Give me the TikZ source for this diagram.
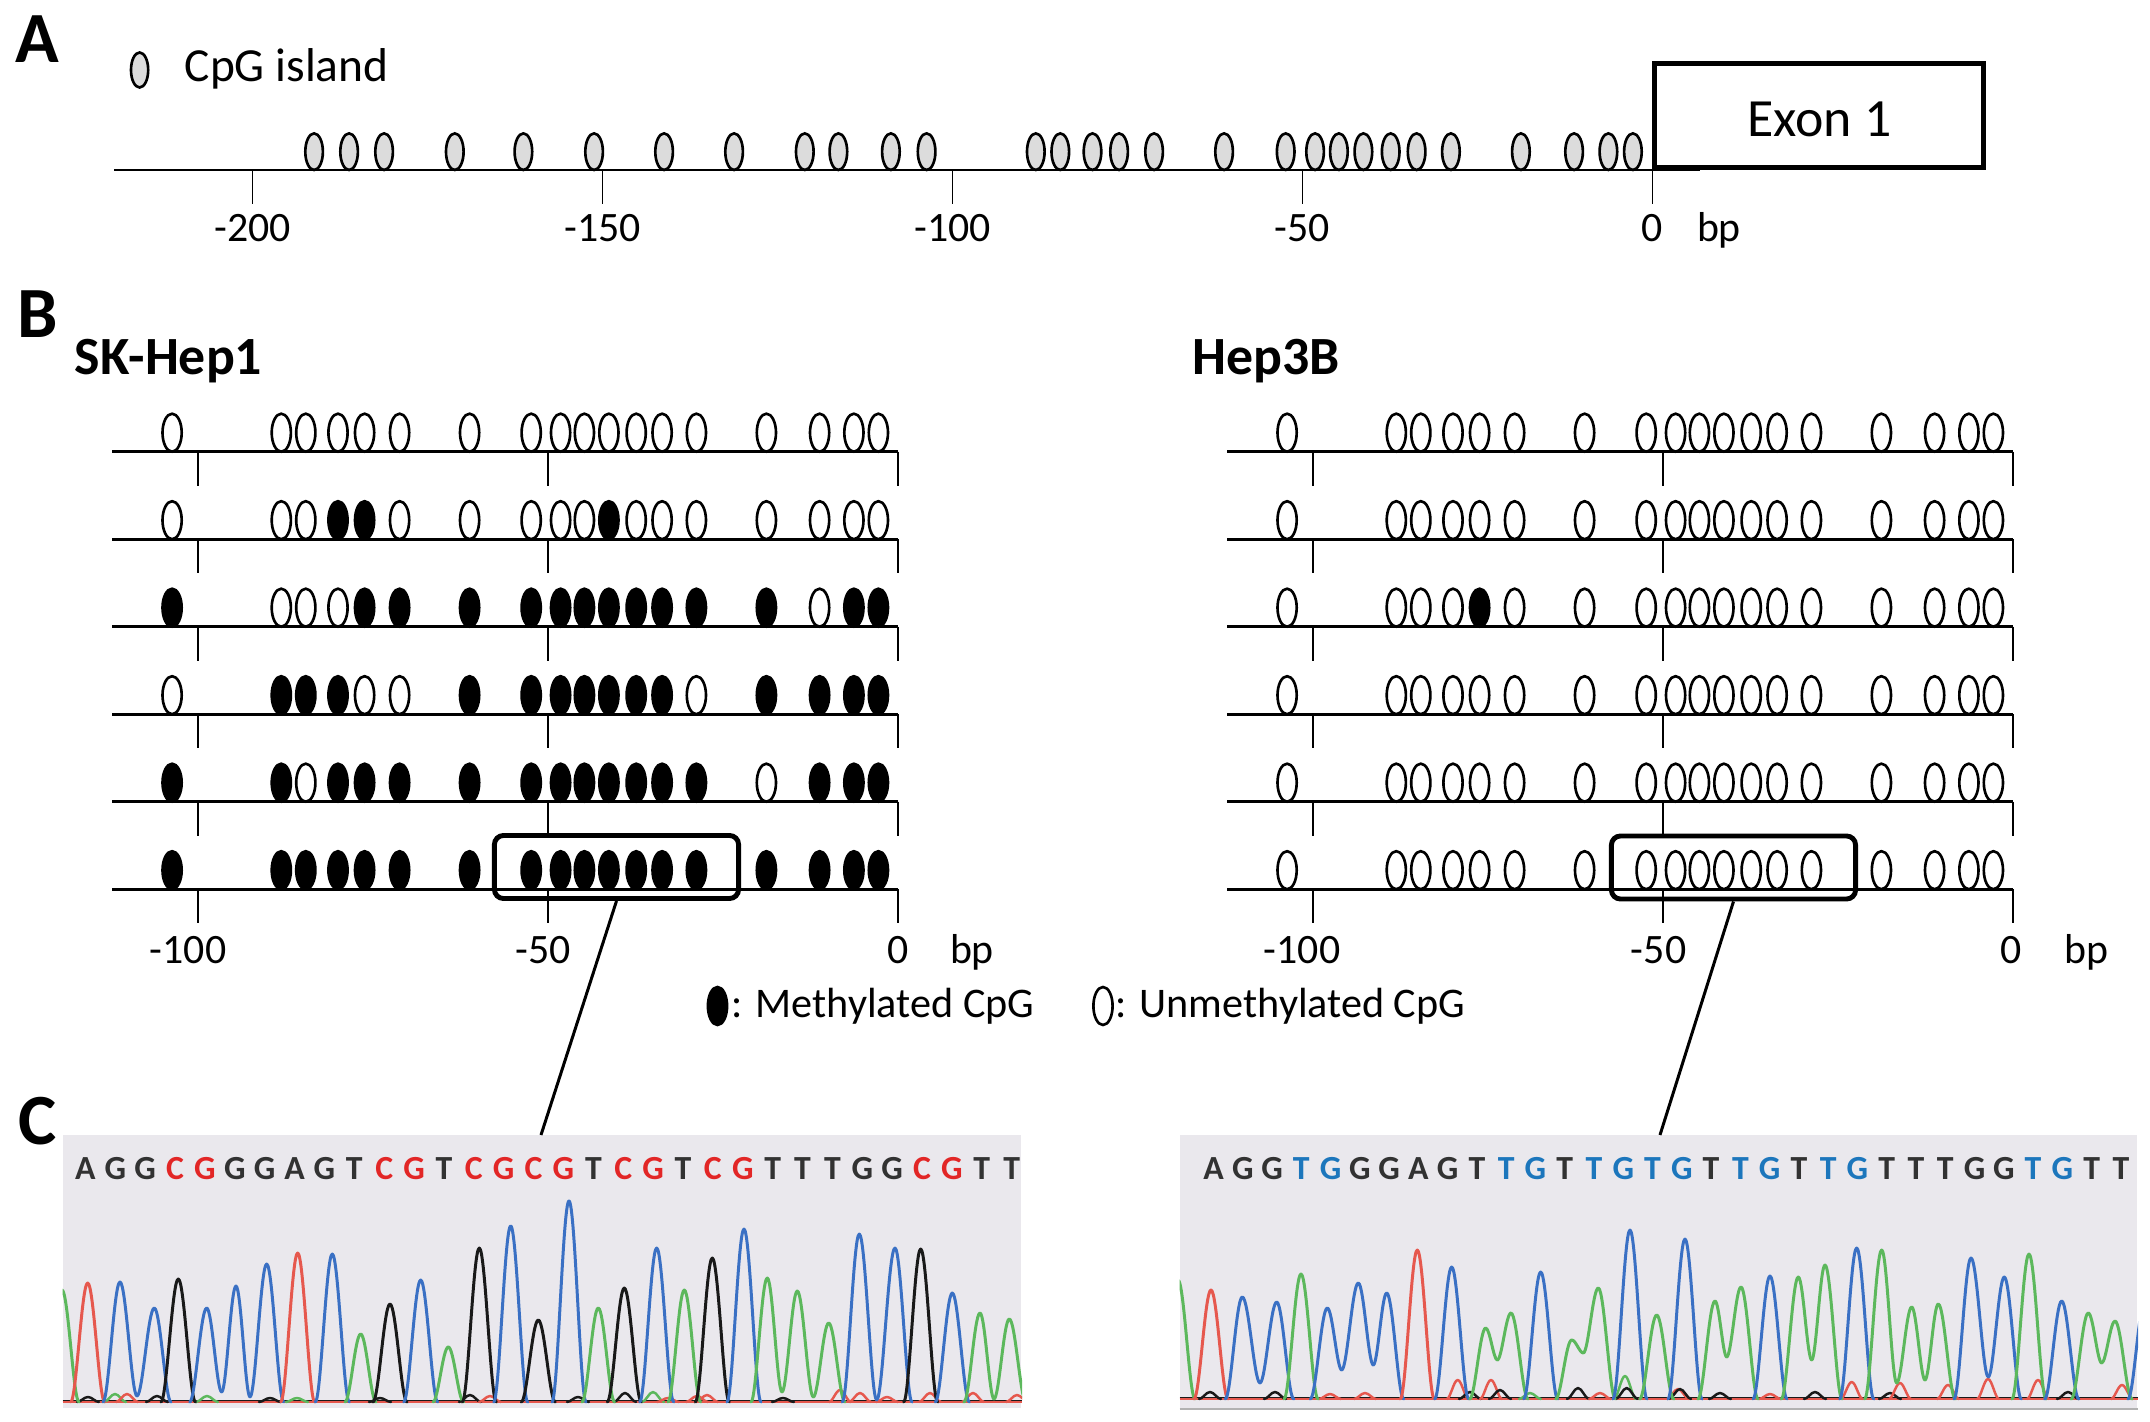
\documentclass[tikz,border=0pt]{standalone}
\usepackage{fontspec}
\setmainfont{Carlito}
\definecolor{trB}{RGB}{58,112,196}
\definecolor{trG}{RGB}{92,184,92}
\definecolor{trR}{RGB}{230,88,78}
\definecolor{trK}{RGB}{25,25,25}
\definecolor{seqred}{RGB}{226,38,38}
\definecolor{seqblue}{RGB}{28,118,188}
\definecolor{seqdark}{RGB}{50,50,50}
\definecolor{chrbgc}{RGB}{234,232,237}
\definecolor{cpggray}{RGB}{220,220,220}
\tikzset{
 axisline/.style={line width=0.75pt},
 tickline/.style={line width=0.45pt},
 cpgA/.style={draw=black, fill=cpggray, line width=0.75pt},
 cpgO/.style={draw=black, fill=white, line width=0.75pt},
 cpgF/.style={draw=black, fill=black, line width=0.75pt},
 ticklbl/.style={anchor=base, inner sep=0pt, font=\fontsize{11.9}{14}\selectfont},
 panel/.style={anchor=base west, inner sep=0pt, font=\fontsize{20.5}{24}\selectfont\bfseries},
 cellname/.style={anchor=base west, inner sep=0pt, font=\fontsize{15.3}{18}\selectfont\bfseries},
 legtext/.style={anchor=base west, inner sep=0pt, font=\fontsize{12}{14}\selectfont},
 hlbox/.style={draw, line width=1.4pt, rounded corners=0.09cm, minimum width=2.44cm, minimum height=0.63cm, inner sep=0pt},
 conn/.style={line width=0.85pt},
 trace/.style={line width=0.85pt, line join=round, line cap=round},
 seqch/.style={anchor=base, inner sep=0pt, font=\fontsize{9.6}{11}\selectfont\bfseries},
 chrbox/.style={fill=chrbgc, draw=none, minimum height=2.73cm, inner sep=0pt},
}
\def\cpgpos{{-103.7,-88.1,-84.6,-80.0,-76.2,-71.2,-61.2,-52.4,-48.2,-44.8,-41.3,-37.4,-33.7,-28.8,-18.8,-11.2,-6.3,-2.8}}
\newcommand\cpgrow[3]{%
  \draw[axisline] ({#1-786},#2) -- (#1,#2);
  \foreach \tk in {-100,-50,0} {\draw[tickline] ({#1+7*\tk},#2) -- ({#1+7*\tk},{#2+34});}
  \foreach \s [count=\i from 0] in {#3} {%
    \pgfmathsetmacro\pp{\cpgpos[\i]}%
    \pgfmathsetmacro\xx{#1+7*\pp}%
    \ifnum\s=1 \draw[cpgF] (\xx,{#2-19}) ellipse [x radius=9.6, y radius=19];%
    \else \draw[cpgO] (\xx,{#2-19}) ellipse [x radius=9.6, y radius=19];\fi
  }%
}
\newcommand\pk[7]{%
 \pgfmathsetmacro\pka{(#2)+0.33*((#4)-(#2))}%
 \pgfmathsetmacro\pkb{(#4)-0.36*((#4)-(#2))}%
 \pgfmathsetmacro\pkc{(#4)+0.36*((#6)-(#4))}%
 \pgfmathsetmacro\pkd{(#6)-0.33*((#6)-(#4))}%
 \draw[trace,#1] (#2,#3) .. controls (\pka,#3) and (\pkb,#5) .. (#4,#5) .. controls (\pkc,#5) and (\pkd,#7) .. (#6,#7);}
\newcommand\bmp[4]{\pgfmathsetmacro\bml{#2-11}\pgfmathsetmacro\bmr{#2+11}\pk{#1,line width=0.7pt}{\bml}{#4}{#2}{#3}{\bmr}{#4}}
\begin{document}
\begin{tikzpicture}[x=0.01cm, y=-0.01cm]
\path[use as bounding box, fill=white] (0,0) rectangle (2150,1422);

% ---------------- Panel A ----------------
\node[panel] (lblA) at (15,62.7) {A};
\draw[cpgA] (139.6,70) ellipse [x radius=8.6, y radius=17.5];
\node[anchor=base west, inner sep=0pt, font=\fontsize{13.5}{16}\selectfont] (cpgleg) at (184,81.7) {CpG island};
\draw[axisline] (114,170) -- (1700,170);
\foreach \t [count=\j] in {-200,-150,-100,-50,0} {
  \draw[tickline] ({1652.5+7*\t},170) -- ({1652.5+7*\t},204);
  \node[ticklbl] (tA\j) at ({1652.5+7*\t},241.7) {\t};
}
\node[ticklbl] (bpA) at (1719,241.7) {bp};
\foreach \p in {-191.2,-186.2,-181.2,-171.1,-161.3,-151.2,-141.2,-131.2,-121.1,-116.3,-108.8,-103.7,-88.1,-84.6,-80.0,-76.2,-71.2,-61.2,-52.4,-48.2,-44.8,-41.3,-37.4,-33.7,-28.8,-18.8,-11.2,-6.3,-2.8}
  {\draw[cpgA] ({1652.5+7*\p},151.7) ellipse [x radius=8.8, y radius=18.3];}
\node[draw, fill=white, line width=1.4pt, minimum width=3.28cm, minimum height=1.04cm, inner sep=0pt] (exon) at (1819,115.5) {};
\node[anchor=base, inner sep=0pt, font=\fontsize{15.3}{18}\selectfont] (exonlbl) at (1819.5,136.7) {Exon 1};

% ---------------- Panel B ----------------
\node[panel] (lblB) at (17,338) {B};
\node[cellname] (skname) at (74,375) {SK-Hep1};
\node[cellname] (hepname) at (1191.5,375) {Hep3B};

\cpgrow{898}{451.7}{0,0,0,0,0,0,0,0,0,0,0,0,0,0,0,0,0,0}
\cpgrow{898}{539.2}{0,0,0,1,1,0,0,0,0,0,1,0,0,0,0,0,0,0}
\cpgrow{898}{626.7}{1,0,0,0,1,1,1,1,1,1,1,1,1,1,1,0,1,1}
\cpgrow{898}{714.2}{0,1,1,1,0,0,1,1,1,1,1,1,1,0,1,1,1,1}
\cpgrow{898}{801.7}{1,1,0,1,1,1,1,1,1,1,1,1,1,1,0,1,1,1}
\cpgrow{898}{889.2}{1,1,1,1,1,1,1,1,1,1,1,1,1,1,1,1,1,1}

\cpgrow{2013}{451.7}{0,0,0,0,0,0,0,0,0,0,0,0,0,0,0,0,0,0}
\cpgrow{2013}{539.2}{0,0,0,0,0,0,0,0,0,0,0,0,0,0,0,0,0,0}
\cpgrow{2013}{626.7}{0,0,0,0,1,0,0,0,0,0,0,0,0,0,0,0,0,0}
\cpgrow{2013}{714.2}{0,0,0,0,0,0,0,0,0,0,0,0,0,0,0,0,0,0}
\cpgrow{2013}{801.7}{0,0,0,0,0,0,0,0,0,0,0,0,0,0,0,0,0,0}
\cpgrow{2013}{889.2}{0,0,0,0,0,0,0,0,0,0,0,0,0,0,0,0,0,0}

\node[ticklbl] (tS1) at (188,963.3) {-100};
\node[ticklbl] (tS2) at (543,963.3) {-50};
\node[ticklbl] (tS3) at (898,963.3) {0};
\node[ticklbl] (bpS) at (972,963.3) {bp};
\node[ticklbl] (tH1) at (1302,963.3) {-100};
\node[ticklbl] (tH2) at (1658.6,963.3) {-50};
\node[ticklbl] (tH3) at (2011,963.3) {0};
\node[ticklbl] (bpH) at (2086.6,963.3) {bp};

\node[hlbox] (boxSK) at (616.5,867) {};
\node[hlbox] (boxHep) at (1733.5,867.5) {};

\draw[cpgF] (717.5,1006) ellipse [x radius=9.6, y radius=19];
\node[legtext] (legM) at (731,1018) {: Methylated CpG};
\draw[cpgO] (1103,1006) ellipse [x radius=9.6, y radius=19];
\node[legtext] (legU) at (1115,1018) {: Unmethylated CpG};

% ---------------- Panel C ----------------
\node[panel] (lblC) at (18,1145) {C};
\node[chrbox, minimum width=9.576cm] (chrL) at (542.4,1271.5) {};
\node[chrbox, minimum width=9.566cm] (chrR) at (1658.9,1271.5) {};
\draw[gray!60, line width=0.6pt] (chrR.south west) -- (chrR.south east);

\coordinate (cL) at (541,1135);
\coordinate (cR) at (1660,1135);
\draw[conn] (boxSK.south) -- (cL);
\draw[conn] (boxHep.south) -- (cR);

% left traces
\begin{scope}
\clip (chrL.south west) rectangle (chrL.north east);
\draw[trR, line width=0.6pt] (chrL.west |- 0,1402) -- (chrL.east |- 0,1402);
\draw[trK, line width=0.5pt] (chrL.west |- 0,1400.5) -- (chrL.east |- 0,1400.5);
\foreach \x/\y/\c in {88/1397/trK,115/1394/trG,127/1394/trR,157/1396/trK,207/1396/trG,270/1398/trK,297/1398/trG,380/1398/trK,470/1395/trK,490/1396/trR,578/1397/trK,625/1393/trK,653/1392/trG,668/1398/trR,697/1396/trR,707/1395/trR,783/1398/trK,840/1390/trR,860/1393/trR,887/1397/trR,930/1393/trR,973/1393/trR,1017/1395/trR}
  {\bmp{\c}{\x}{\y}{1402}}
\pk{trG}{45}{1402}{62}{1290}{79}{1402}
\pk{trR}{70.7}{1402}{87.7}{1283}{104.7}{1402}
\pk{trB}{103}{1402}{120}{1282}{137}{1396}
\pk{trB}{137}{1396}{154.3}{1308}{171}{1402}
\pk{trK}{161}{1402}{178.3}{1279}{195.5}{1402}
\pk{trB}{189.7}{1402}{206.7}{1308}{221.7}{1392}
\pk{trB}{221.7}{1392}{236}{1286}{250}{1397}
\pk{trB}{250}{1397}{266.7}{1264}{283.7}{1402}
\pk{trR}{280.7}{1402}{297.7}{1253}{314.7}{1402}
\pk{trB}{315.3}{1402}{332.3}{1254}{349.3}{1402}
\pk{trG}{345}{1402}{360.7}{1334}{376}{1402}
\pk{trK}{373}{1402}{390}{1304}{407}{1402}
\pk{trB}{403.7}{1402}{420.7}{1280}{437.7}{1402}
\pk{trG}{433}{1402}{448.3}{1347}{463.6}{1402}
\pk{trK}{462.3}{1402}{479.3}{1248}{496.3}{1402}
\pk{trB}{493.7}{1402}{510.7}{1226}{527.7}{1402}
\pk{trK}{521.3}{1402}{538.3}{1320}{555.3}{1402}
\pk{trB}{552}{1402}{569}{1201}{586}{1402}
\pk{trG}{582}{1402}{598.3}{1308}{614.6}{1402}
\pk{trK}{607.3}{1402}{624.3}{1288}{641.3}{1402}
\pk{trB}{639.7}{1402}{656.7}{1248}{673.7}{1402}
\pk{trG}{668}{1402}{684.3}{1290}{700.6}{1402}
\pk{trK}{695.3}{1402}{712.3}{1258}{729.3}{1402}
\pk{trB}{727}{1402}{744}{1229}{761}{1402}
\pk{trG}{751}{1402}{767.3}{1278}{782}{1392}
\pk{trG}{782}{1392}{797.3}{1291}{813.3}{1397}
\pk{trG}{813.3}{1397}{828.7}{1323}{845}{1402}
\pk{trB}{842.3}{1402}{859.3}{1234}{876.7}{1400}
\pk{trB}{876.7}{1400}{895}{1248}{912}{1402}
\pk{trK}{903.7}{1402}{920.7}{1249}{937.7}{1402}
\pk{trB}{935.3}{1402}{952.3}{1293}{969.3}{1402}
\pk{trG}{964}{1402}{980}{1313}{994}{1399}
\pk{trG}{994}{1399}{1009.3}{1319}{1026}{1402}
\end{scope}

% right traces
\begin{scope}
\clip (chrR.south west) rectangle (chrR.north east);
\draw[trR, line width=0.6pt] (chrR.west |- 0,1399) -- (chrR.east |- 0,1399);
\draw[trK, line width=0.5pt] (chrR.west |- 0,1397.5) -- (chrR.east |- 0,1397.5);
\foreach \x/\y/\c in {1210/1392/trK,1275/1392/trK,1330/1394/trR,1365/1393/trR,1457.7/1380/trR,1470/1392/trK,1491/1380/trR,1500/1390/trK,1530/1393/trG,1578/1388/trK,1600/1393/trR,1625/1376/trG,1626.7/1388/trK,1678/1389/trR,1680/1389/trK,1720/1393/trK,1770/1394/trR,1815/1392/trK,1851.7/1382/trR,1890/1393/trK,1900/1383/trR,1948/1385/trR,1988/1379/trR,2038/1380/trR,2068/1392/trK,2122/1385/trR}
  {\bmp{\c}{\x}{\y}{1399}}
\pk{trG}{1161}{1399}{1178}{1280}{1195}{1399}
\pk{trR}{1194}{1399}{1211}{1290}{1228}{1399}
\pk{trB}{1225.3}{1399}{1242.3}{1297}{1260}{1383}
\pk{trB}{1260}{1383}{1276.7}{1302}{1293.7}{1399}
\pk{trG}{1284}{1399}{1301}{1274}{1318}{1399}
\pk{trB}{1310.3}{1399}{1327.3}{1308}{1341.7}{1370}
\pk{trB}{1341.7}{1370}{1358.3}{1283}{1373.3}{1365}
\pk{trB}{1373.3}{1365}{1386.7}{1293}{1403.7}{1399}
\pk{trR}{1400.3}{1399}{1417.3}{1250}{1434.3}{1399}
\pk{trB}{1434.7}{1399}{1451.7}{1267}{1468.7}{1399}
\pk{trG}{1469.7}{1399}{1485.7}{1328}{1497.3}{1360}
\pk{trG}{1497.3}{1360}{1511}{1313}{1528}{1399}
\pk{trB}{1523.7}{1399}{1540.7}{1272}{1557.7}{1399}
\pk{trG}{1555.7}{1399}{1571.7}{1340}{1583.3}{1353}
\pk{trG}{1583.3}{1353}{1598.3}{1288}{1615.3}{1399}
\pk{trB}{1613}{1399}{1630}{1230}{1647}{1399}
\pk{trG}{1639.7}{1399}{1656.7}{1315}{1673.7}{1399}
\pk{trB}{1668}{1399}{1685}{1239}{1702}{1399}
\pk{trG}{1698}{1399}{1715}{1301}{1726.7}{1357}
\pk{trG}{1726.7}{1357}{1741}{1287}{1758}{1399}
\pk{trB}{1753}{1399}{1770}{1276}{1787}{1399}
\pk{trG}{1781.3}{1399}{1798.3}{1277}{1811.7}{1360}
\pk{trG}{1811.7}{1360}{1825}{1265}{1842}{1399}
\pk{trB}{1839.7}{1399}{1856.7}{1248}{1873.7}{1399}
\pk{trG}{1864.7}{1399}{1881.7}{1250}{1896.7}{1383}
\pk{trG}{1896.7}{1383}{1911.7}{1307}{1925}{1380}
\pk{trG}{1925}{1380}{1938.3}{1304}{1955.3}{1399}
\pk{trB}{1954}{1399}{1971}{1258}{1988.3}{1377}
\pk{trB}{1988.3}{1377}{2004.3}{1277}{2021.3}{1399}
\pk{trG}{2012}{1399}{2029}{1254}{2046}{1399}
\pk{trB}{2044.7}{1399}{2061.7}{1301}{2078.7}{1399}
\pk{trG}{2071.3}{1399}{2088.3}{1313}{2101.7}{1363}
\pk{trG}{2101.7}{1363}{2115}{1321}{2132}{1399}
\pk{trB}{2128}{1399}{2145}{1300}{2162}{1399}
\end{scope}

% sequences
\foreach \c/\k [count=\i from 0] in {A/0,G/0,G/0,C/1,G/1,G/0,G/0,A/0,G/0,T/0,C/1,G/1,T/0,C/1,G/1,C/1,G/1,T/0,C/1,G/1,T/0,C/1,G/1,T/0,T/0,T/0,G/0,G/0,C/1,G/1,T/0,T/0} {
  \ifnum\k=1 \def\sqc{seqred}\else\def\sqc{seqdark}\fi
  \node[seqch, text=\sqc] (sL\i) at ({85.4+29.88*\i},1180) {\c};
}
\foreach \c/\k [count=\i from 0] in {A/0,G/0,G/0,T/1,G/1,G/0,G/0,A/0,G/0,T/0,T/1,G/1,T/0,T/1,G/1,T/1,G/1,T/0,T/1,G/1,T/0,T/1,G/1,T/0,T/0,T/0,G/0,G/0,T/1,G/1,T/0,T/0} {
  \ifnum\k=1 \def\sqc{seqblue}\else\def\sqc{seqdark}\fi
  \node[seqch, text=\sqc] (sR\i) at ({1213.5+29.27*\i},1180) {\c};
}
\end{tikzpicture}
\end{document}
